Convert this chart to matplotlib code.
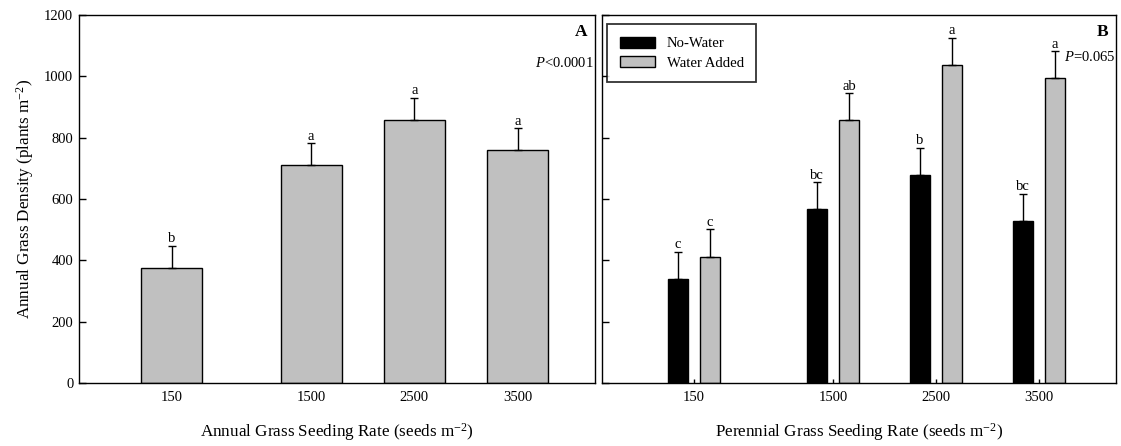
import matplotlib
matplotlib.use("Agg")
import matplotlib.pyplot as plt

plt.rcParams['font.family'] = ['Liberation Serif', 'DejaVu Serif']
plt.rcParams['mathtext.fontset'] = 'custom'
plt.rcParams['mathtext.rm'] = 'Liberation Serif'
plt.rcParams['mathtext.it'] = 'Liberation Serif:italic'

# seeding rates (seeds m-2)
rates = [150, 1500, 2500, 3500]
rate_labels = ['150', '1500', '2500', '3500']

# panel A: annual grass density
annual_mean = [376, 712, 858, 760]
annual_se = [72, 70, 71, 71]
annual_letters = ['b', 'a', 'a', 'a']

# panel B: perennial seeding, water treatments
nowater_mean = [340, 567, 677, 527]
nowater_se = [87, 88, 89, 89]
nowater_letters = ['c', 'bc', 'b', 'bc']
water_mean = [412, 857, 1037, 994]
water_se = [89, 88, 89, 87]
water_letters = ['c', 'ab', 'a', 'a']

gray = '#c0c0c0'

fig = plt.figure(figsize=(11.21, 4.46), dpi=100)
axA = fig.add_axes([0.0703, 0.1413, 0.4605, 0.8251])
axB = fig.add_axes([0.5366, 0.1413, 0.4589, 0.8251])

def style_axis(ax):
    ax.set_xlim(-750, 4250)
    ax.set_ylim(0, 1200)
    ax.set_xticks(rates)
    ax.set_xticklabels(rate_labels)
    ax.set_yticks(range(0, 1201, 200))
    ax.tick_params(axis='x', direction='in', length=3, width=1, pad=6, labelsize=10.5)
    ax.tick_params(axis='y', direction='in', length=5, width=1, pad=4, labelsize=10.5)
    for s in ax.spines.values():
        s.set_linewidth(1.0)

# Panel A
style_axis(axA)
axA.bar(rates, annual_mean, width=590, color=gray, edgecolor='black', linewidth=1.0, zorder=2)
axA.errorbar(rates, annual_mean, yerr=[[0] * 4, annual_se], fmt='none', ecolor='black',
             elinewidth=1.0, capsize=3.2, capthick=1.0, zorder=3)
for x, m, e, t in zip(rates, annual_mean, annual_se, annual_letters):
    axA.text(x, m + e + 2, t, ha='center', va='bottom', fontsize=10.5)
axA.text(0.985, 0.955, 'A', transform=axA.transAxes, ha='right', va='center',
         fontsize=12.5, fontweight='bold')
axA.text(0.997, 0.87, '$P$<0.0001', transform=axA.transAxes, ha='right', va='center', fontsize=10.5)
axA.set_ylabel('Annual Grass Density (plants m$^{-2}$)', fontsize=12.3, labelpad=6)
axA.set_xlabel('Annual Grass Seeding Rate (seeds m$^{-2}$)', fontsize=12.3, labelpad=12)

# Panel B
style_axis(axB)
axB.set_yticklabels([])
off = 155
bw = 190
xs_nw = [r - off for r in rates]
xs_w = [r + off for r in rates]
axB.bar(xs_nw, nowater_mean, width=bw, color='black', edgecolor='black', linewidth=1.0,
        label='No-Water', zorder=2)
axB.bar(xs_w, water_mean, width=bw, color=gray, edgecolor='black', linewidth=1.0,
        label='Water Added', zorder=2)
axB.errorbar(xs_nw, nowater_mean, yerr=[[0] * 4, nowater_se], fmt='none', ecolor='black',
             elinewidth=1.0, capsize=3, capthick=1.0, zorder=3)
axB.errorbar(xs_w, water_mean, yerr=[[0] * 4, water_se], fmt='none', ecolor='black',
             elinewidth=1.0, capsize=3, capthick=1.0, zorder=3)
for xs, means, ses, letters in [(xs_nw, nowater_mean, nowater_se, nowater_letters),
                                (xs_w, water_mean, water_se, water_letters)]:
    for x, m, e, t in zip(xs, means, ses, letters):
        axB.text(x, m + e + 2, t, ha='center', va='bottom', fontsize=10.5)
axB.text(0.985, 0.955, 'B', transform=axB.transAxes, ha='right', va='center',
         fontsize=12.5, fontweight='bold')
axB.text(0.999, 0.885, '$P$=0.065', transform=axB.transAxes, ha='right', va='center', fontsize=10.5)
axB.set_xlabel('Perennial Grass Seeding Rate (seeds m$^{-2}$)', fontsize=12.3, labelpad=12)
leg = axB.legend(loc='upper left', bbox_to_anchor=(0.011, 0.9755), borderaxespad=0,
                 fontsize=10.6, frameon=True, fancybox=False, handlelength=2.4,
                 handleheight=0.8, borderpad=0.85, labelspacing=0.4, handletextpad=0.8)
leg.get_frame().set_edgecolor('black')
leg.get_frame().set_linewidth(1.3)

fig.savefig('out.png', dpi=100)
